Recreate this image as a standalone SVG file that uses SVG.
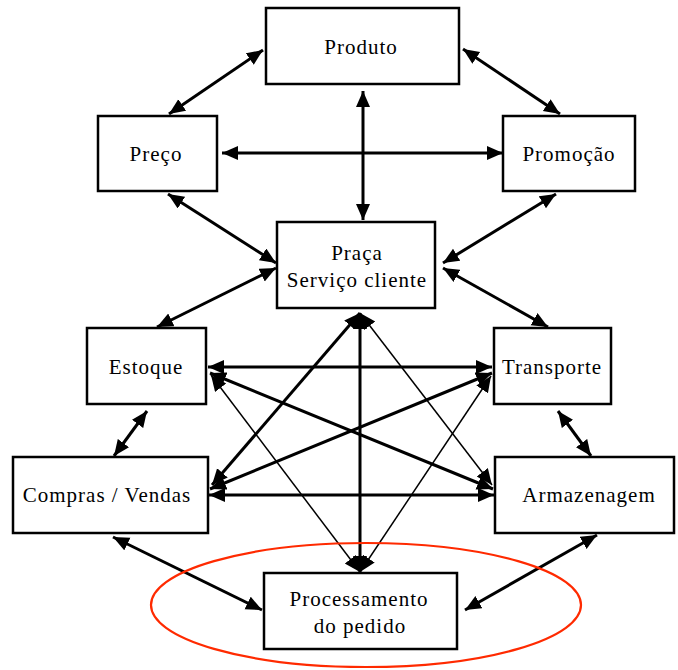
<svg xmlns="http://www.w3.org/2000/svg" width="678" height="670" viewBox="0 0 678 670">
<style>
.box{fill:#fff;stroke:#000;stroke-width:2.5}
.lbl{font-family:"Liberation Serif","Times New Roman",serif;font-size:21px;letter-spacing:1px;fill:#000;text-anchor:middle}
.c{stroke:#000;stroke-width:3;fill:none;marker-start:url(#ah);marker-end:url(#ah)}
.t{stroke:#000;stroke-width:1.5;fill:none;marker-start:url(#ah);marker-end:url(#ah)}
</style>
<defs>
<marker id="ah" markerUnits="userSpaceOnUse" markerWidth="17" markerHeight="15" refX="16" refY="7" orient="auto-start-reverse">
<path d="M0,0 L16,7 L0,14 z" fill="#000"/>
</marker>
</defs>
<rect width="678" height="670" fill="#fff"/>
<g id="connectors">
<line class="c" x1="263" y1="50" x2="169" y2="114"/>
<line class="c" x1="463" y1="49" x2="560" y2="114"/>
<line class="c" x1="363" y1="91" x2="363" y2="220"/>
<line class="c" x1="222" y1="153" x2="503" y2="153"/>
<line class="c" x1="168" y1="194" x2="276" y2="263"/>
<line class="c" x1="556" y1="194" x2="443" y2="263"/>
<line class="c" x1="276" y1="268" x2="157" y2="327"/>
<line class="c" x1="443" y1="268" x2="548" y2="327"/>
<line class="c" x1="147" y1="411" x2="114" y2="456"/>
<line class="c" x1="558" y1="411" x2="591" y2="456"/>
<line class="c" x1="113" y1="537" x2="262" y2="610"/>
<line class="c" x1="597" y1="535" x2="465" y2="610"/>
<line class="c" x1="208" y1="367" x2="492" y2="367"/>
<line class="c" x1="209" y1="495" x2="494" y2="495"/>
<line class="c" x1="210" y1="373" x2="493" y2="489"/>
<line class="c" x1="210" y1="489" x2="492" y2="373"/>
<line class="c" x1="360" y1="313" x2="212" y2="485"/>
<line class="t" x1="360" y1="313" x2="492" y2="485"/>
<line class="c" x1="360" y1="313" x2="360" y2="572"/>
<line class="t" x1="211" y1="375" x2="360" y2="572"/>
<line class="t" x1="491" y1="376" x2="360" y2="572"/>
</g>
<ellipse id="highlight" cx="366" cy="605" rx="215" ry="62" fill="none" stroke="#ff2a00" stroke-width="2.2"/>
<g id="produto"><rect class="box" x="266" y="8" width="193" height="76"/><text class="lbl" x="361" y="54">Produto</text></g>
<g id="preco"><rect class="box" x="98" y="116" width="119" height="75"/><text class="lbl" x="156" y="161">Preço</text></g>
<g id="promocao"><rect class="box" x="503" y="116" width="132" height="75"/><text class="lbl" x="569" y="161">Promoção</text></g>
<g id="praca"><rect class="box" x="277" y="222" width="158" height="86"/><text class="lbl" x="357" y="260">Praça</text><text class="lbl" x="357" y="287">Serviço cliente</text></g>
<g id="estoque"><rect class="box" x="87" y="328" width="119" height="76"/><text class="lbl" x="146" y="374">Estoque</text></g>
<g id="transporte"><rect class="box" x="494" y="328" width="117" height="76"/><text class="lbl" x="552" y="374">Transporte</text></g>
<g id="compras"><rect class="box" x="13" y="457" width="195" height="76"/><text class="lbl" x="107" y="502">Compras / Vendas</text></g>
<g id="armazenagem"><rect class="box" x="495" y="457" width="179" height="76"/><text class="lbl" x="589" y="502">Armazenagem</text></g>
<g id="processamento"><rect class="box" x="264" y="573" width="193" height="76"/><text class="lbl" x="359" y="606">Processamento</text><text class="lbl" x="360" y="633">do pedido</text></g>
</svg>
